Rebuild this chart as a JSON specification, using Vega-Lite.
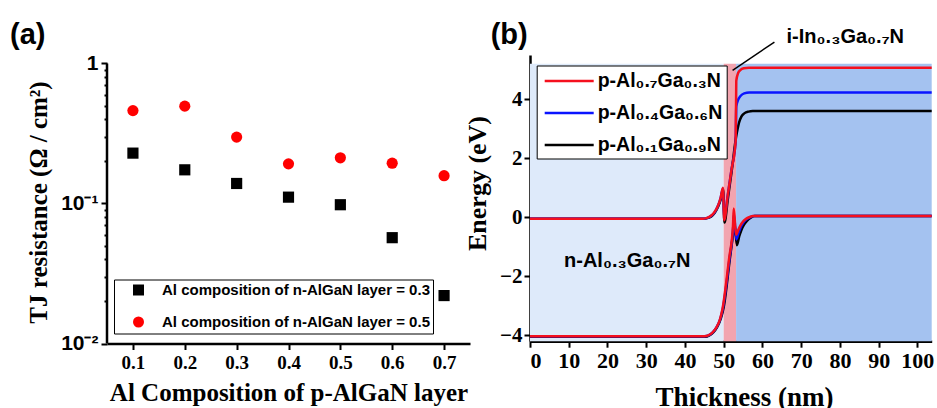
{
  "$schema": "https://vega.github.io/schema/vega-lite/v6.json",
  "background": "white",
  "padding": {"left": 10, "top": 21, "right": 0, "bottom": 0},
  "spacing": -6,
  "resolve": {
    "scale": {"color": "independent", "shape": "independent", "fill": "independent"},
    "legend": {"color": "independent", "shape": "independent", "fill": "independent"}
  },
  "config": {
    "view": {"stroke": null},
    "axis": {"domainColor": "black", "domainWidth": 2.5, "tickColor": "black", "tickWidth": 2, "labelColor": "black", "titleColor": "black", "grid": false}
  },
  "datasets": {
    "res": [
      {"p": 0.1, "r": 0.229, "series": "Al composition of n-AlGaN layer = 0.3"},
      {"p": 0.2, "r": 0.174, "series": "Al composition of n-AlGaN layer = 0.3"},
      {"p": 0.3, "r": 0.139, "series": "Al composition of n-AlGaN layer = 0.3"},
      {"p": 0.4, "r": 0.111, "series": "Al composition of n-AlGaN layer = 0.3"},
      {"p": 0.5, "r": 0.098, "series": "Al composition of n-AlGaN layer = 0.3"},
      {"p": 0.6, "r": 0.057, "series": "Al composition of n-AlGaN layer = 0.3"},
      {"p": 0.7, "r": 0.022, "series": "Al composition of n-AlGaN layer = 0.3"},
      {"p": 0.1, "r": 0.461, "series": "Al composition of n-AlGaN layer = 0.5"},
      {"p": 0.2, "r": 0.496, "series": "Al composition of n-AlGaN layer = 0.5"},
      {"p": 0.3, "r": 0.298, "series": "Al composition of n-AlGaN layer = 0.5"},
      {"p": 0.4, "r": 0.192, "series": "Al composition of n-AlGaN layer = 0.5"},
      {"p": 0.5, "r": 0.212, "series": "Al composition of n-AlGaN layer = 0.5"},
      {"p": 0.6, "r": 0.194, "series": "Al composition of n-AlGaN layer = 0.5"},
      {"p": 0.7, "r": 0.158, "series": "Al composition of n-AlGaN layer = 0.5"}
    ],
    "axisLineA": [
      {"p": 0.05, "r0": 0.01, "r1": 1}
    ],
    "tagA": [
      {"p": -0.137, "r": 1.367, "label": "(a)"}
    ],
    "tagB": [
      {"t": -10.15, "e": 5.86, "label": "(b)"}
    ],
    "regions": [
      {"t0": 0, "t1": 50, "e0": -4.2, "e1": 5.2, "region": "n"},
      {"t0": 50, "t1": 53.2, "e0": -4.2, "e1": 5.2, "region": "i"},
      {"t0": 53.2, "t1": 103.7, "e0": -4.2, "e1": 5.2, "region": "p"}
    ],
    "bands": [
      {"alloy": "p-Al₀.₁Ga₀.₉N", "band": "c", "t": 0, "e": -0.05},
      {"alloy": "p-Al₀.₁Ga₀.₉N", "band": "c", "t": 44.8, "e": -0.05},
      {"alloy": "p-Al₀.₁Ga₀.₉N", "band": "c", "t": 45.8, "e": -0.03},
      {"alloy": "p-Al₀.₁Ga₀.₉N", "band": "c", "t": 46.8, "e": 0.03},
      {"alloy": "p-Al₀.₁Ga₀.₉N", "band": "c", "t": 47.7, "e": 0.15},
      {"alloy": "p-Al₀.₁Ga₀.₉N", "band": "c", "t": 48.6, "e": 0.37},
      {"alloy": "p-Al₀.₁Ga₀.₉N", "band": "c", "t": 49.3, "e": 0.63},
      {"alloy": "p-Al₀.₁Ga₀.₉N", "band": "c", "t": 49.85, "e": 0.95},
      {"alloy": "p-Al₀.₁Ga₀.₉N", "band": "c", "t": 50.2, "e": -0.18},
      {"alloy": "p-Al₀.₁Ga₀.₉N", "band": "c", "t": 51.1, "e": 0.65},
      {"alloy": "p-Al₀.₁Ga₀.₉N", "band": "c", "t": 52.1, "e": 1.6},
      {"alloy": "p-Al₀.₁Ga₀.₉N", "band": "c", "t": 53.2, "e": 2.72},
      {"alloy": "p-Al₀.₁Ga₀.₉N", "band": "c", "t": 53.6, "e": 3.0},
      {"alloy": "p-Al₀.₁Ga₀.₉N", "band": "c", "t": 54.0, "e": 3.22},
      {"alloy": "p-Al₀.₁Ga₀.₉N", "band": "c", "t": 54.6, "e": 3.42},
      {"alloy": "p-Al₀.₁Ga₀.₉N", "band": "c", "t": 55.4, "e": 3.53},
      {"alloy": "p-Al₀.₁Ga₀.₉N", "band": "c", "t": 56.4, "e": 3.58},
      {"alloy": "p-Al₀.₁Ga₀.₉N", "band": "c", "t": 57.5, "e": 3.6},
      {"alloy": "p-Al₀.₁Ga₀.₉N", "band": "c", "t": 103.7, "e": 3.6},
      {"alloy": "p-Al₀.₁Ga₀.₉N", "band": "v", "t": 0, "e": -4.05},
      {"alloy": "p-Al₀.₁Ga₀.₉N", "band": "v", "t": 45.3, "e": -4.05},
      {"alloy": "p-Al₀.₁Ga₀.₉N", "band": "v", "t": 46.3, "e": -4.0},
      {"alloy": "p-Al₀.₁Ga₀.₉N", "band": "v", "t": 47.3, "e": -3.9},
      {"alloy": "p-Al₀.₁Ga₀.₉N", "band": "v", "t": 48.3, "e": -3.72},
      {"alloy": "p-Al₀.₁Ga₀.₉N", "band": "v", "t": 49.3, "e": -3.42},
      {"alloy": "p-Al₀.₁Ga₀.₉N", "band": "v", "t": 50.0, "e": -3.05},
      {"alloy": "p-Al₀.₁Ga₀.₉N", "band": "v", "t": 51.6, "e": -1.4},
      {"alloy": "p-Al₀.₁Ga₀.₉N", "band": "v", "t": 52.6, "e": -0.4},
      {"alloy": "p-Al₀.₁Ga₀.₉N", "band": "v", "t": 52.8, "e": -0.2},
      {"alloy": "p-Al₀.₁Ga₀.₉N", "band": "v", "t": 53.4, "e": -0.95},
      {"alloy": "p-Al₀.₁Ga₀.₉N", "band": "v", "t": 54.0, "e": -0.65},
      {"alloy": "p-Al₀.₁Ga₀.₉N", "band": "v", "t": 54.6, "e": -0.42},
      {"alloy": "p-Al₀.₁Ga₀.₉N", "band": "v", "t": 55.3, "e": -0.24},
      {"alloy": "p-Al₀.₁Ga₀.₉N", "band": "v", "t": 56.0, "e": -0.12},
      {"alloy": "p-Al₀.₁Ga₀.₉N", "band": "v", "t": 57.0, "e": -0.01},
      {"alloy": "p-Al₀.₁Ga₀.₉N", "band": "v", "t": 58.0, "e": 0.04},
      {"alloy": "p-Al₀.₁Ga₀.₉N", "band": "v", "t": 103.7, "e": 0.04},
      {"alloy": "p-Al₀.₄Ga₀.₆N", "band": "c", "t": 0, "e": -0.05},
      {"alloy": "p-Al₀.₄Ga₀.₆N", "band": "c", "t": 44.6, "e": -0.05},
      {"alloy": "p-Al₀.₄Ga₀.₆N", "band": "c", "t": 45.6, "e": -0.03},
      {"alloy": "p-Al₀.₄Ga₀.₆N", "band": "c", "t": 46.6, "e": 0.03},
      {"alloy": "p-Al₀.₄Ga₀.₆N", "band": "c", "t": 47.6, "e": 0.15},
      {"alloy": "p-Al₀.₄Ga₀.₆N", "band": "c", "t": 48.5, "e": 0.38},
      {"alloy": "p-Al₀.₄Ga₀.₆N", "band": "c", "t": 49.2, "e": 0.64},
      {"alloy": "p-Al₀.₄Ga₀.₆N", "band": "c", "t": 49.8, "e": 0.97},
      {"alloy": "p-Al₀.₄Ga₀.₆N", "band": "c", "t": 50.15, "e": -0.05},
      {"alloy": "p-Al₀.₄Ga₀.₆N", "band": "c", "t": 51.0, "e": 0.7},
      {"alloy": "p-Al₀.₄Ga₀.₆N", "band": "c", "t": 52.0, "e": 1.6},
      {"alloy": "p-Al₀.₄Ga₀.₆N", "band": "c", "t": 53.1, "e": 2.6},
      {"alloy": "p-Al₀.₄Ga₀.₆N", "band": "c", "t": 53.25, "e": 3.75},
      {"alloy": "p-Al₀.₄Ga₀.₆N", "band": "c", "t": 53.7, "e": 3.97},
      {"alloy": "p-Al₀.₄Ga₀.₆N", "band": "c", "t": 54.4, "e": 4.12},
      {"alloy": "p-Al₀.₄Ga₀.₆N", "band": "c", "t": 55.3, "e": 4.2},
      {"alloy": "p-Al₀.₄Ga₀.₆N", "band": "c", "t": 56.6, "e": 4.23},
      {"alloy": "p-Al₀.₄Ga₀.₆N", "band": "c", "t": 103.7, "e": 4.23},
      {"alloy": "p-Al₀.₄Ga₀.₆N", "band": "v", "t": 0, "e": -4.03},
      {"alloy": "p-Al₀.₄Ga₀.₆N", "band": "v", "t": 45.1, "e": -4.03},
      {"alloy": "p-Al₀.₄Ga₀.₆N", "band": "v", "t": 46.1, "e": -4.0},
      {"alloy": "p-Al₀.₄Ga₀.₆N", "band": "v", "t": 47.1, "e": -3.91},
      {"alloy": "p-Al₀.₄Ga₀.₆N", "band": "v", "t": 48.1, "e": -3.74},
      {"alloy": "p-Al₀.₄Ga₀.₆N", "band": "v", "t": 49.1, "e": -3.45},
      {"alloy": "p-Al₀.₄Ga₀.₆N", "band": "v", "t": 49.8, "e": -3.08},
      {"alloy": "p-Al₀.₄Ga₀.₆N", "band": "v", "t": 51.5, "e": -1.4},
      {"alloy": "p-Al₀.₄Ga₀.₆N", "band": "v", "t": 52.45, "e": -0.35},
      {"alloy": "p-Al₀.₄Ga₀.₆N", "band": "v", "t": 52.65, "e": 0.1},
      {"alloy": "p-Al₀.₄Ga₀.₆N", "band": "v", "t": 53.25, "e": -0.75},
      {"alloy": "p-Al₀.₄Ga₀.₆N", "band": "v", "t": 53.8, "e": -0.55},
      {"alloy": "p-Al₀.₄Ga₀.₆N", "band": "v", "t": 54.4, "e": -0.34},
      {"alloy": "p-Al₀.₄Ga₀.₆N", "band": "v", "t": 55.0, "e": -0.2},
      {"alloy": "p-Al₀.₄Ga₀.₆N", "band": "v", "t": 55.8, "e": -0.08},
      {"alloy": "p-Al₀.₄Ga₀.₆N", "band": "v", "t": 56.8, "e": 0.0},
      {"alloy": "p-Al₀.₄Ga₀.₆N", "band": "v", "t": 57.8, "e": 0.04},
      {"alloy": "p-Al₀.₄Ga₀.₆N", "band": "v", "t": 103.7, "e": 0.04},
      {"alloy": "p-Al₀.₇Ga₀.₃N", "band": "c", "t": 0, "e": -0.05},
      {"alloy": "p-Al₀.₇Ga₀.₃N", "band": "c", "t": 44.5, "e": -0.05},
      {"alloy": "p-Al₀.₇Ga₀.₃N", "band": "c", "t": 45.5, "e": -0.03},
      {"alloy": "p-Al₀.₇Ga₀.₃N", "band": "c", "t": 46.5, "e": 0.03},
      {"alloy": "p-Al₀.₇Ga₀.₃N", "band": "c", "t": 47.5, "e": 0.15},
      {"alloy": "p-Al₀.₇Ga₀.₃N", "band": "c", "t": 48.5, "e": 0.38},
      {"alloy": "p-Al₀.₇Ga₀.₃N", "band": "c", "t": 49.2, "e": 0.65},
      {"alloy": "p-Al₀.₇Ga₀.₃N", "band": "c", "t": 49.8, "e": 1.0},
      {"alloy": "p-Al₀.₇Ga₀.₃N", "band": "c", "t": 50.15, "e": -0.1},
      {"alloy": "p-Al₀.₇Ga₀.₃N", "band": "c", "t": 51.0, "e": 0.7},
      {"alloy": "p-Al₀.₇Ga₀.₃N", "band": "c", "t": 52.0, "e": 1.6},
      {"alloy": "p-Al₀.₇Ga₀.₃N", "band": "c", "t": 53.1, "e": 2.6},
      {"alloy": "p-Al₀.₇Ga₀.₃N", "band": "c", "t": 53.25, "e": 4.62},
      {"alloy": "p-Al₀.₇Ga₀.₃N", "band": "c", "t": 53.7, "e": 4.88},
      {"alloy": "p-Al₀.₇Ga₀.₃N", "band": "c", "t": 54.3, "e": 4.99},
      {"alloy": "p-Al₀.₇Ga₀.₃N", "band": "c", "t": 55.2, "e": 5.05},
      {"alloy": "p-Al₀.₇Ga₀.₃N", "band": "c", "t": 56.5, "e": 5.07},
      {"alloy": "p-Al₀.₇Ga₀.₃N", "band": "c", "t": 103.7, "e": 5.07},
      {"alloy": "p-Al₀.₇Ga₀.₃N", "band": "v", "t": 0, "e": -4.03},
      {"alloy": "p-Al₀.₇Ga₀.₃N", "band": "v", "t": 45.0, "e": -4.03},
      {"alloy": "p-Al₀.₇Ga₀.₃N", "band": "v", "t": 46.0, "e": -4.0},
      {"alloy": "p-Al₀.₇Ga₀.₃N", "band": "v", "t": 47.0, "e": -3.92},
      {"alloy": "p-Al₀.₇Ga₀.₃N", "band": "v", "t": 48.0, "e": -3.76},
      {"alloy": "p-Al₀.₇Ga₀.₃N", "band": "v", "t": 49.0, "e": -3.48},
      {"alloy": "p-Al₀.₇Ga₀.₃N", "band": "v", "t": 49.7, "e": -3.1},
      {"alloy": "p-Al₀.₇Ga₀.₃N", "band": "v", "t": 51.4, "e": -1.4},
      {"alloy": "p-Al₀.₇Ga₀.₃N", "band": "v", "t": 52.4, "e": -0.3},
      {"alloy": "p-Al₀.₇Ga₀.₃N", "band": "v", "t": 52.6, "e": 0.3},
      {"alloy": "p-Al₀.₇Ga₀.₃N", "band": "v", "t": 53.2, "e": -0.6},
      {"alloy": "p-Al₀.₇Ga₀.₃N", "band": "v", "t": 53.7, "e": -0.45},
      {"alloy": "p-Al₀.₇Ga₀.₃N", "band": "v", "t": 54.3, "e": -0.28},
      {"alloy": "p-Al₀.₇Ga₀.₃N", "band": "v", "t": 54.9, "e": -0.16},
      {"alloy": "p-Al₀.₇Ga₀.₃N", "band": "v", "t": 55.7, "e": -0.06},
      {"alloy": "p-Al₀.₇Ga₀.₃N", "band": "v", "t": 56.7, "e": 0.01},
      {"alloy": "p-Al₀.₇Ga₀.₃N", "band": "v", "t": 57.6, "e": 0.04},
      {"alloy": "p-Al₀.₇Ga₀.₃N", "band": "v", "t": 103.7, "e": 0.04}
    ],
    "notes": [
      {"t": 25.1, "e": -1.7, "label": "n-Al₀.₃Ga₀.₇N"},
      {"t": 81.4, "e": 5.9, "label": "i-In₀.₃Ga₀.₇N"}
    ],
    "pointer": [
      {"t": 52.3, "e": 4.98, "t2": 63.1, "e2": 5.94}
    ]
  },
  "hconcat": [
    {
      "width": 363,
      "height": 288.5,
      "layer": [
        {
          "data": {"name": "res"},
          "mark": {"type": "point", "filled": true, "opacity": 1, "size": 125},
          "encoding": {
            "x": {
              "field": "p", "type": "quantitative",
              "scale": {"domain": [0.05, 0.75], "nice": false, "zero": false},
              "axis": {
                "values": [0.1, 0.15, 0.2, 0.25, 0.3, 0.35, 0.4, 0.45, 0.5, 0.55, 0.6, 0.65, 0.7],
                "labelExpr": "abs(datum.value*10 - round(datum.value*10)) < 0.001 ? format(datum.value, '.1f') : ''",
                "tickSize": {"condition": {"test": "abs(datum.value*10 - round(datum.value*10)) < 0.001", "value": 6}, "value": 3},
                "labelFont": "Liberation Serif", "labelFontWeight": "bold", "labelFontSize": 19, "labelPadding": 4,
                "title": "Al Composition of p-AlGaN layer",
                "titleFont": "Liberation Serif", "titleFontSize": 25, "titleFontWeight": "bold",
                "titleBaseline": "alphabetic", "titleY": 57
              }
            },
            "y": {
              "field": "r", "type": "quantitative",
              "scale": {"type": "log", "domain": [0.01, 1.15], "nice": false},
              "axis": {
                "domain": false,
                "values": [0.01, 0.02, 0.03, 0.04, 0.05, 0.06, 0.07, 0.08, 0.09, 0.1, 0.2, 0.3, 0.4, 0.5, 0.6, 0.7, 0.8, 0.9, 1],
                "labelExpr": "datum.value >= 0.99 ? '1' : (abs(datum.value - 0.1) < 0.000001 ? '10⁻¹' : (abs(datum.value - 0.01) < 0.000001 ? '10⁻²' : ''))",
                "tickSize": {"condition": {"test": "datum.value >= 0.99 || abs(datum.value - 0.1) < 0.000001 || abs(datum.value - 0.01) < 0.000001", "value": 6}, "value": 3},
                "labelFont": "Liberation Sans", "labelFontWeight": "bold", "labelFontSize": 21, "labelPadding": 3,
                "title": "TJ resistance (Ω / cm²)",
                "titleFont": "Liberation Serif", "titleFontSize": 25, "titleFontWeight": "bold",
                "titleBaseline": "alphabetic", "titleX": -61, "titleY": 147
              }
            },
            "color": {
              "field": "series", "type": "nominal",
              "scale": {"range": ["black", "#ff0000"]},
              "legend": {"orient": "none", "legendX": 7, "legendY": 224.5, "title": null, "labelFont": "Liberation Sans", "labelFontSize": 15, "labelFontWeight": "bold", "labelColor": "black", "labelLimit": 400, "symbolSize": 121, "symbolOffset": 14, "labelOffset": 16, "padding": 3, "rowPadding": 16, "strokeColor": "black", "fillColor": "white"}
            },
            "shape": {
              "field": "series", "type": "nominal",
              "scale": {"range": ["square", "circle"]},
              "legend": {"orient": "none", "legendX": 7, "legendY": 224.5, "title": null, "labelFont": "Liberation Sans", "labelFontSize": 15, "labelFontWeight": "bold", "labelColor": "black", "labelLimit": 400, "symbolSize": 121, "symbolOffset": 14, "labelOffset": 16, "padding": 3, "rowPadding": 16, "strokeColor": "black", "fillColor": "white"}
            }
          }
        },
        {
          "data": {"name": "axisLineA"},
          "mark": {"type": "rule", "color": "black", "strokeWidth": 2.5},
          "encoding": {
            "x": {"field": "p", "type": "quantitative"},
            "y": {"field": "r0", "type": "quantitative"},
            "y2": {"field": "r1"}
          }
        },
        {
          "data": {"name": "tagA"},
          "mark": {"type": "text", "font": "Liberation Sans", "fontSize": 29, "fontWeight": "bold", "color": "black", "align": "left", "baseline": "alphabetic"},
          "encoding": {
            "x": {"field": "p", "type": "quantitative"},
            "y": {"field": "r", "type": "quantitative"},
            "text": {"field": "label"}
          }
        }
      ]
    },
    {
      "width": 401.7,
      "height": 286.2,
      "layer": [
        {
          "data": {"name": "regions"},
          "mark": {"type": "rect"},
          "encoding": {
            "x": {
              "field": "t0", "type": "quantitative", "title": "Thickness (nm)",
              "scale": {"domain": [0, 103.7], "nice": false, "zero": false},
              "axis": {
                "values": [0, 5, 10, 15, 20, 25, 30, 35, 40, 45, 50, 55, 60, 65, 70, 75, 80, 85, 90, 95, 100],
                "labelExpr": "datum.value % 10 == 0 ? datum.label : ''",
                "tickSize": {"condition": {"test": "datum.value % 10 == 0", "value": 6}, "value": 3},
                "labelFont": "Liberation Serif", "labelFontWeight": "bold", "labelFontSize": 22, "labelPadding": 3,
                "titleFont": "Liberation Serif", "titleFontSize": 27, "titleFontWeight": "bold",
                "titleBaseline": "alphabetic", "titleY": 64, "titleX": 214
              }
            },
            "x2": {"field": "t1"},
            "y": {
              "field": "e0", "type": "quantitative", "title": "Energy (eV)",
              "scale": {"domain": [-4.2, 5.5], "nice": false, "zero": false},
              "axis": {
                "values": [-4, -3, -2, -1, 0, 1, 2, 3, 4, 5],
                "labelExpr": "datum.value % 2 == 0 ? datum.label : ''",
                "tickSize": {"condition": {"test": "datum.value % 2 == 0", "value": 6}, "value": 3},
                "labelFont": "Liberation Serif", "labelFontWeight": "bold", "labelFontSize": 21, "labelPadding": 2,
                "titleFont": "Liberation Serif", "titleFontSize": 26, "titleFontWeight": "bold",
                "titleBaseline": "alphabetic", "titleX": -45, "titleY": 128
              }
            },
            "y2": {"field": "e1"},
            "fill": {"field": "region", "type": "nominal", "scale": {"domain": ["n", "i", "p"], "range": ["#deeafa", "#f2a4af", "#a4c2f0"]}, "legend": null}
          }
        },
        {
          "data": {"name": "bands"},
          "transform": [{"filter": "datum.alloy == 'p-Al₀.₁Ga₀.₉N'"}],
          "mark": {"type": "line", "strokeWidth": 2.5, "interpolate": "monotone"},
          "encoding": {
            "x": {"field": "t", "type": "quantitative", "title": "Thickness (nm)"},
            "y": {"field": "e", "type": "quantitative", "title": "Energy (eV)"},
            "color": {"field": "alloy", "type": "nominal", "scale": {"domain": ["p-Al₀.₇Ga₀.₃N", "p-Al₀.₄Ga₀.₆N", "p-Al₀.₁Ga₀.₉N"], "range": ["#f5101e", "#0a14ff", "black"]},
              "legend": {"orient": "none", "legendX": 6.7, "legendY": 10.5, "title": null, "symbolType": "M-2.45,0H2.45", "symbolSize": 400, "symbolStrokeWidth": 2.5, "symbolOffset": 17, "labelFont": "Liberation Sans", "labelFontSize": 19.5, "labelFontWeight": "bold", "labelColor": "black", "labelLimit": 400, "labelOffset": 17, "rowPadding": 11, "padding": 4, "strokeColor": "black", "fillColor": "white"}},
            "detail": {"field": "band"}
          }
        },
        {
          "data": {"name": "bands"},
          "transform": [{"filter": "datum.alloy == 'p-Al₀.₄Ga₀.₆N'"}],
          "mark": {"type": "line", "strokeWidth": 2.5, "interpolate": "monotone"},
          "encoding": {
            "x": {"field": "t", "type": "quantitative", "title": "Thickness (nm)"},
            "y": {"field": "e", "type": "quantitative", "title": "Energy (eV)"},
            "color": {"field": "alloy", "type": "nominal"},
            "detail": {"field": "band"}
          }
        },
        {
          "data": {"name": "bands"},
          "transform": [{"filter": "datum.alloy == 'p-Al₀.₇Ga₀.₃N'"}],
          "mark": {"type": "line", "strokeWidth": 2.5, "interpolate": "monotone"},
          "encoding": {
            "x": {"field": "t", "type": "quantitative", "title": "Thickness (nm)"},
            "y": {"field": "e", "type": "quantitative", "title": "Energy (eV)"},
            "color": {"field": "alloy", "type": "nominal"},
            "detail": {"field": "band"}
          }
        },
        {
          "data": {"name": "pointer"},
          "mark": {"type": "rule", "color": "black", "strokeWidth": 1.5},
          "encoding": {
            "x": {"field": "t", "type": "quantitative", "title": "Thickness (nm)"},
            "y": {"field": "e", "type": "quantitative", "title": "Energy (eV)"},
            "x2": {"field": "t2"},
            "y2": {"field": "e2"}
          }
        },
        {
          "data": {"name": "notes"},
          "mark": {"type": "text", "font": "Liberation Sans", "fontSize": 20, "fontWeight": "bold", "color": "black", "align": "center", "baseline": "alphabetic"},
          "encoding": {
            "x": {"field": "t", "type": "quantitative", "title": "Thickness (nm)"},
            "y": {"field": "e", "type": "quantitative", "title": "Energy (eV)"},
            "text": {"field": "label"}
          }
        },
        {
          "data": {"name": "tagB"},
          "mark": {"type": "text", "font": "Liberation Sans", "fontSize": 29, "fontWeight": "bold", "color": "black", "align": "left", "baseline": "alphabetic"},
          "encoding": {
            "x": {"field": "t", "type": "quantitative", "title": "Thickness (nm)"},
            "y": {"field": "e", "type": "quantitative", "title": "Energy (eV)"},
            "text": {"field": "label"}
          }
        }
      ]
    }
  ]
}
